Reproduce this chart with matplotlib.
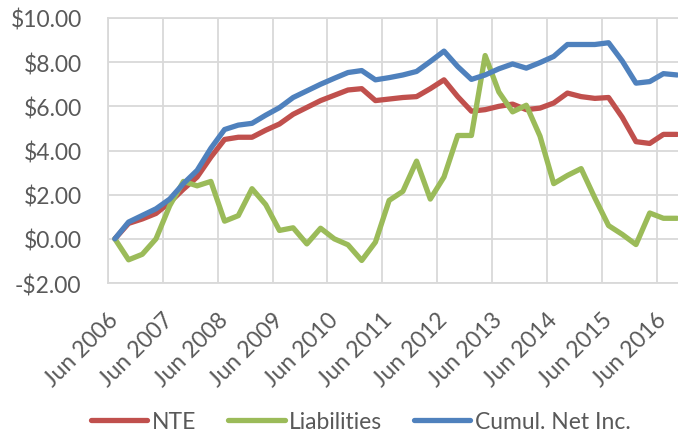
# -*- coding: utf-8 -*-
"""NTE, liabilities and cumulative net income, quarterly Jun 2006 - Sep 2016."""
import matplotlib
matplotlib.use("Agg")
import matplotlib.pyplot as plt

# quarterly labels, Jun 2006 .. Sep 2016
months = ["Jun", "Sep", "Dec", "Mar"]
quarters = []
for k in range(42):
    m = months[k % 4]
    year = 2006 + (k + 2) // 4
    quarters.append(f"{m} {year}")

nte = [0, 0.7, 0.9, 1.15, 1.65, 2.25, 2.8, 3.7, 4.5, 4.6,
       4.6, 4.92, 5.2, 5.64, 5.95, 6.26, 6.5, 6.74, 6.8, 6.26,
       6.33, 6.4, 6.44, 6.8, 7.2, 6.44, 5.78, 5.85, 6.0, 6.1,
       5.85, 5.92, 6.15, 6.6, 6.44, 6.36, 6.4, 5.5, 4.4, 4.32,
       4.73, 4.73]
liabilities = [0, -0.95, -0.7, 0, 1.5, 2.6, 2.4, 2.6, 0.8, 1.05,
               2.27, 1.55, 0.38, 0.5, -0.23, 0.48, 0, -0.27, -0.98, -0.15,
               1.74, 2.15, 3.52, 1.8, 2.8, 4.68, 4.68, 8.3, 6.65, 5.75,
               6.05, 4.65, 2.5, 2.87, 3.18, 1.85, 0.6, 0.2, -0.26, 1.17,
               0.93, 0.93]
cumul = [0, 0.76, 1.06, 1.36, 1.8, 2.5, 3.1, 4.1, 4.95, 5.15,
         5.23, 5.6, 5.94, 6.4, 6.7, 7.0, 7.27, 7.53, 7.62, 7.2,
         7.3, 7.42, 7.58, 8.03, 8.5, 7.8, 7.22, 7.42, 7.7, 7.92,
         7.73, 7.98, 8.26, 8.8, 8.8, 8.8, 8.88, 8.05, 7.05, 7.12,
         7.48, 7.42]

series = [("NTE", nte, "#C0504D"),
          ("Liabilities", liabilities, "#9BBB59"),
          ("Cumul. Net Inc.", cumul, "#4F81BD")]

text_color = "#595959"
grid_color = "#D9D9D9"
plt.rcParams["font.family"] = ["Lato", "DejaVu Sans"]
plt.rcParams["font.size"] = 16.5

fig = plt.figure(figsize=(6.78, 4.39), dpi=100)
ax = fig.add_axes([108 / 678, 155 / 439, 576 / 678, 265 / 439])

x = list(range(len(quarters)))
for name, vals, color in series:
    ax.plot(x, vals, color=color, lw=3.8, label=name,
            solid_joinstyle="round", solid_capstyle="round")

ax.set_xlim(-0.5, len(quarters) - 0.5)
ax.set_ylim(-2, 10)

yt = list(range(-2, 11, 2))
ax.set_yticks(yt)
ax.set_yticklabels([f"-${abs(v):.2f}" if v < 0 else f"${v:.2f}" for v in yt],
                   color=text_color)

major = list(range(0, len(quarters), 4))
ax.set_xticks(major)
ax.set_xticklabels([quarters[i] for i in major], rotation=45, ha="right",
                   va="center", rotation_mode="anchor", color=text_color)
ax.set_xticks([i - 0.5 for i in major], minor=True)

ax.tick_params(axis="both", which="both", length=0)
ax.tick_params(axis="y", pad=19)
ax.tick_params(axis="x", pad=23.5)
ax.grid(axis="y", color=grid_color, lw=1.3)
ax.grid(axis="x", which="minor", color=grid_color, lw=1.3)
ax.grid(axis="x", which="major", visible=False)
ax.set_axisbelow(True)

for side in ["left", "bottom", "top"]:
    ax.spines[side].set_color(grid_color)
    ax.spines[side].set_linewidth(1.3)
ax.spines["right"].set_visible(False)

leg = fig.legend(loc="center", bbox_to_anchor=(361 / 678, 1 - 423 / 439),
                 ncol=3, frameon=False, handlelength=2.45, handletextpad=0.2,
                 columnspacing=1.4, labelcolor=text_color)

fig.savefig("out.png", dpi=100)
